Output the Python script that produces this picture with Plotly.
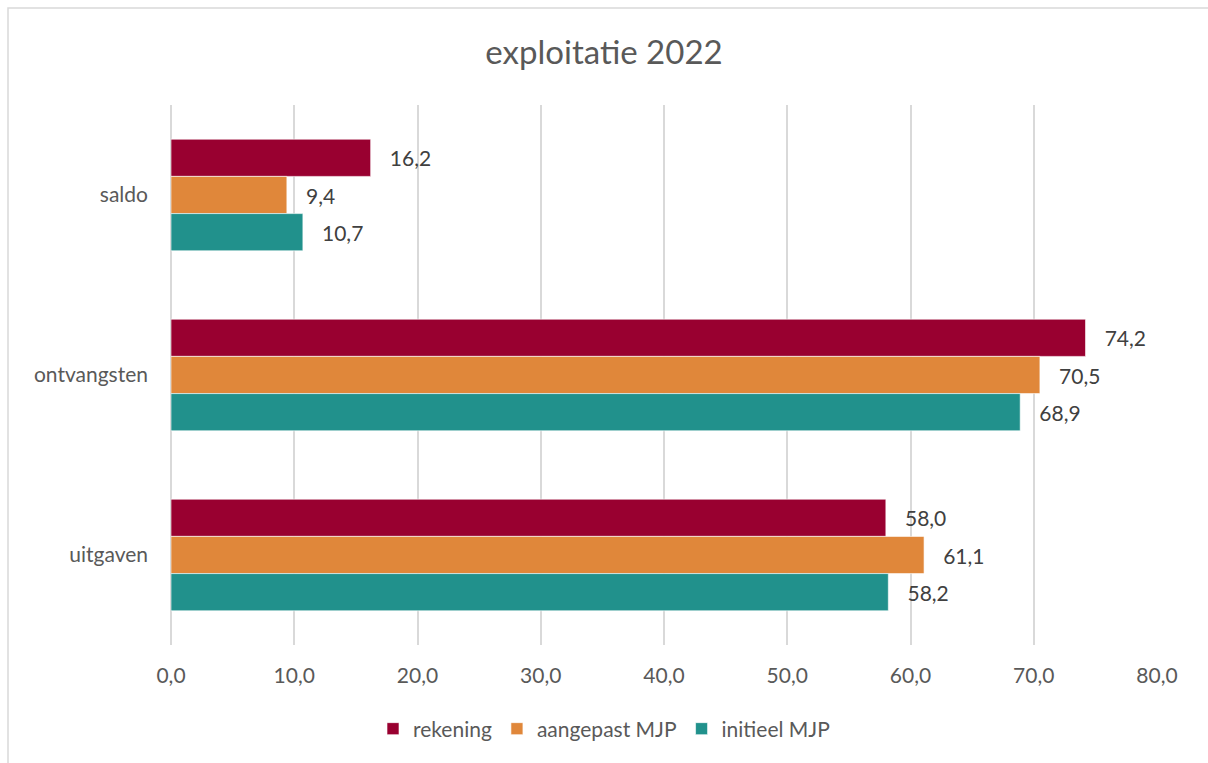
import plotly.graph_objects as go

categories = ["saldo", "ontvangsten", "uitgaven"]
rekening = [16.2, 74.2, 58.0]
aangepast_mjp = [9.4, 70.5, 61.1]
initieel_mjp = [10.7, 68.9, 58.2]
series_names = ["rekening", "aangepast MJP", "initieel MJP"]
x_ticks = [0, 10, 20, 30, 40, 50, 60, 70, 80]

colors = ["#990030", "#E0873A", "#21918C"]
FONT = "Lato, 'Open Sans', sans-serif"
FS = 21

fig = go.Figure()
for name, vals, col in zip(series_names, [rekening, aangepast_mjp, initieel_mjp], colors):
    fig.add_trace(go.Bar(
        y=categories, x=vals, name=name, orientation="h",
        marker=dict(color=col, line=dict(color="rgba(255,255,255,0.6)", width=1)),
        texttemplate="   %{x:.1f}", textposition="outside", cliponaxis=False,
        textfont=dict(size=FS, color="#404040", family=FONT),
    ))

W, H = 1208, 763
L, R, T, B = 171, 51, 105, 118
pw, ph = W - L - R, H - T - B

def px_x(p):
    return (p - L) / pw

def px_y(p):
    return 1 - (p - T) / ph

fig.update_layout(
    width=W, height=H,
    margin=dict(l=L, r=R, t=T, b=B),
    paper_bgcolor="white", plot_bgcolor="white",
    separators=",.",
    barmode="group", bargap=0.38, bargroupgap=0,
    title=dict(text="exploitatie 2022", x=0.5, xref="container", xanchor="center",
               y=1 - 52 / H, yanchor="middle",
               font=dict(size=33, color="#595959", family=FONT)),
    font=dict(family=FONT, color="#595959", size=FS),
    xaxis=dict(range=[0, 80], tickvals=x_ticks, tickformat=".1f",
               showgrid=True, gridcolor="#d9d9d9", gridwidth=1.5,
               zeroline=True, zerolinecolor="#d9d9d9", zerolinewidth=1.5,
               showline=False, ticks="", ticklen=0, ticklabelstandoff=16,
               tickfont=dict(size=FS, color="#595959", family=FONT)),
    yaxis=dict(autorange="reversed", showgrid=False, showline=False, ticks="",
               ticklabelstandoff=22,
               tickfont=dict(size=FS, color="#595959", family=FONT)),
    legend=dict(orientation="h", x=0.5, xanchor="center", xref="container",
                y=1 - 729 / H, yref="container", yanchor="middle",
                font=dict(size=FS, color="#595959", family=FONT),
                traceorder="normal"),
    showlegend=True,
    shapes=[dict(type="rect", xref="paper", yref="paper",
                 x0=px_x(8), x1=px_x(1230), y0=px_y(8), y1=px_y(790),
                 line=dict(color="#d9d9d9", width=1.5), layer="below")],
)

fig.write_html("out.html", config={"displayModeBar": False},
               post_script="document.body.style.margin='0';")
